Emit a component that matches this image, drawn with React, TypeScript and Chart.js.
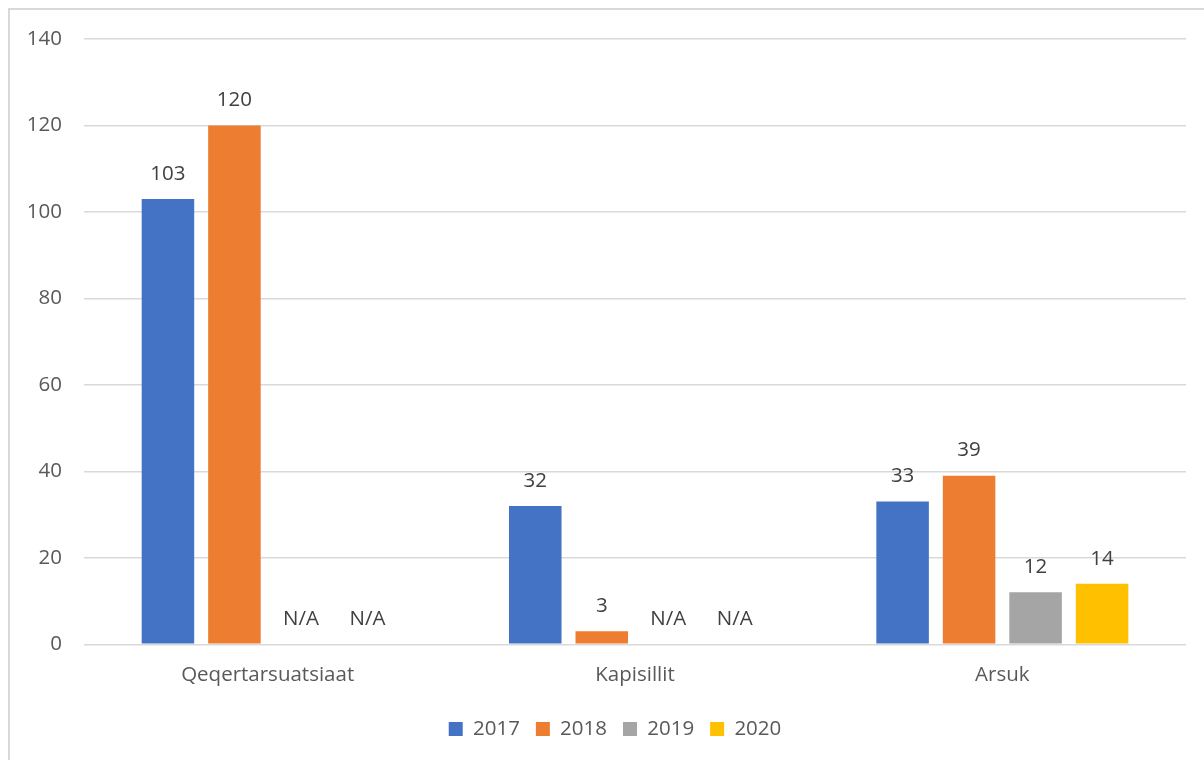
import React, { useEffect, useRef } from "react";
import { Chart, registerables } from "chart.js";

Chart.register(...registerables);

const categories = ["Qeqertarsuatsiaat", "Kapisillit", "Arsuk"];
const seriesLabels = ["2017", "2018", "2019", "2020"];
const values2017: (number | null)[] = [103, 32, 33];
const values2018: (number | null)[] = [120, 3, 39];
const values2019: (number | null)[] = [null, null, 12];
const values2020: (number | null)[] = [null, null, 14];
const seriesColors = ["#4472C4", "#ED7D31", "#A5A5A5", "#FFC000"];
const yMin = 0;
const yMax = 140;
const yStep = 20;
const naLabel = "N/A";

const FONT = '"Open Sans", sans-serif';
const FONT_SIZE = 20.5;

const dataLabelPlugin = {
  id: "dataLabels",
  afterDatasetsDraw(chart: any) {
    const { ctx } = chart;
    const yScale = chart.scales.y;
    ctx.save();
    ctx.font = `${FONT_SIZE}px ${FONT}`;
    ctx.fillStyle = "#404040";
    ctx.textAlign = "center";
    ctx.textBaseline = "middle";
    chart.data.datasets.forEach((ds: any, i: number) => {
      const meta = chart.getDatasetMeta(i);
      meta.data.forEach((el: any, j: number) => {
        const v = ds.data[j];
        const y = yScale.getPixelForValue(v == null ? 0 : v) - 25;
        ctx.fillText(v == null ? naLabel : String(v), el.x, y);
      });
    });
    ctx.restore();
  },
};

const legendShiftPlugin = {
  id: "legendShift",
  afterLayout(chart: any) {
    const l = chart.legend;
    if (l) {
      l.left += 17;
      l.right += 17;
    }
  },
};

export default function App() {
  const canvasRef = useRef<HTMLCanvasElement | null>(null);

  useEffect(() => {
    if (!canvasRef.current) return;
    const allValues = [values2017, values2018, values2019, values2020];
    const chart = new Chart(canvasRef.current, {
      type: "bar",
      data: {
        labels: categories,
        datasets: seriesLabels.map((label, i) => ({
          label,
          data: allValues[i],
          backgroundColor: seriesColors[i],
          borderWidth: 0,
          barPercentage: 0.79,
          categoryPercentage: 0.724,
        })),
      },
      options: {
        animation: false,
        responsive: true,
        maintainAspectRatio: false,
        layout: { padding: { left: 0, right: 34, top: 29, bottom: 36.75 } },
        plugins: {
          legend: {
            position: "bottom",
            labels: {
              boxWidth: 14,
              boxHeight: 14,
              padding: 16,
              color: "#595959",
              font: { family: FONT, size: FONT_SIZE },
            },
          },
          tooltip: { enabled: false },
        },
        scales: {
          x: {
            grid: { display: false, drawTicks: false },
            border: { display: false },
            ticks: {
              color: "#595959",
              padding: 18.7,
              font: { family: FONT, size: FONT_SIZE },
            },
            afterFit: (scale: any) => {
              scale.height -= 3.5;
            },
          },
          y: {
            min: yMin,
            max: yMax,
            grid: { color: "#d9d9d9", lineWidth: 1.5, drawTicks: false },
            border: { display: false },
            ticks: {
              stepSize: yStep,
              color: "#595959",
              padding: 22,
              font: { family: FONT, size: FONT_SIZE },
            },
            afterFit: (scale: any) => {
              scale.width = 74;
              scale.paddingTop = 0;
              scale.paddingBottom = 0;
            },
          },
        },
      },
      plugins: [dataLabelPlugin, legendShiftPlugin],
    } as any);
    return () => chart.destroy();
  }, []);

  return (
    <div
      style={{
        position: "fixed",
        left: 8,
        top: 8,
        width: 1214,
        height: 780,
        border: "2px solid #d9d9d9",
        boxSizing: "border-box",
        background: "#fff",
      }}
    >
      <div style={{ position: "relative", width: 1210, height: 776 }}>
        <canvas ref={canvasRef} />
      </div>
    </div>
  );
}
